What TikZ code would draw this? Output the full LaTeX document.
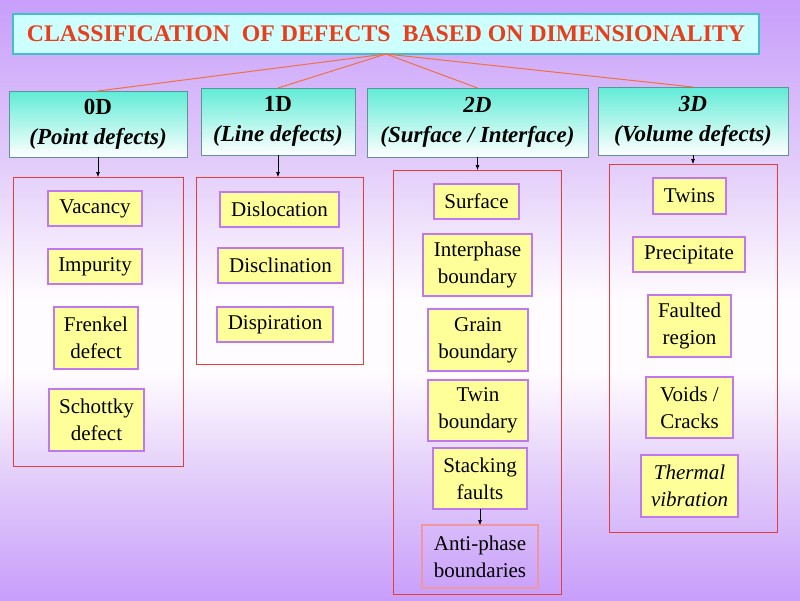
\documentclass[tikz,border=0pt]{standalone}
\usepackage{fontspec}
\setmainfont{Liberation Serif}
\usetikzlibrary{arrows.meta}
\definecolor{bgP}{RGB}{200,158,250}
\definecolor{bgM}{RGB}{226,204,250}
\definecolor{bgW}{RGB}{255,252,255}
\definecolor{titlefill}{RGB}{206,255,255}
\definecolor{titledraw}{RGB}{64,192,200}
\definecolor{titletext}{RGB}{232,62,28}
\definecolor{headtop}{RGB}{96,236,214}
\definecolor{headdraw}{RGB}{90,150,150}
\definecolor{connc}{RGB}{240,112,64}
\definecolor{groupc}{RGB}{232,60,60}
\definecolor{itemfill}{RGB}{255,255,153}
\definecolor{itemdraw}{RGB}{192,120,240}
\definecolor{antidraw}{RGB}{240,150,160}
\pgfdeclareverticalshading{bgshade}{100bp}{%
  color(0bp)=(bgP); color(25bp)=(bgP); color(35bp)=(bgM); color(44bp)=(bgW);
  color(50bp)=(bgW); color(61.5bp)=(bgM); color(75bp)=(bgP); color(100bp)=(bgP)}
\newcommand\bx[7]{\node[#1, minimum width={(#5-#3)*1pt}, minimum height={(#6-#4)*1pt}] (#2) at ({(#3+#5)/2},{(#4+#6)/2}) {#7};}
\tikzset{
  titlebox/.style={draw=titledraw, line width=2pt, fill=titlefill, inner sep=0pt, outer sep=0pt,
    text=titletext, font=\fontsize{23.8}{28}\selectfont\bfseries},
  headbox/.style={draw=headdraw, line width=1pt, top color=headtop, bottom color=white, inner sep=0pt, outer sep=0pt,
    align=center, font=\fontsize{23}{30}\selectfont\bfseries},
  groupbox/.style={draw=groupc, line width=1pt, inner sep=0pt, outer sep=0pt},
  itembox/.style={draw=itemdraw, line width=2pt, fill=itemfill, inner sep=0pt, outer sep=0pt,
    align=center, font=\fontsize{21}{27}\selectfont},
  antibox/.style={draw=antidraw, line width=2pt, inner sep=0pt, outer sep=0pt,
    align=center, font=\fontsize{21}{27}\selectfont},
  conn/.style={draw=connc, line width=1pt},
  arr/.style={draw=black, line width=0.6pt, -{Latex[length=5pt,width=4pt]}}
}
\begin{document}
\begin{tikzpicture}[x=1pt,y=-1pt]
\useasboundingbox (0,0) rectangle (800,600);
\shade[shading=bgshade] (0,0) rectangle (800,600);
% title
\bx{titlebox}{title}{13}{14}{759}{54}{CLASSIFICATION\ \ OF DEFECTS\ \ BASED ON DIMENSIONALITY}
% headers
\bx{headbox}{h0}{9}{91}{187}{157}{0D\\\textit{(Point defects)}}
\bx{headbox}{h1}{201}{88}{355}{155}{1D\\\textit{(Line defects)}}
\bx{headbox}{h2}{367}{88}{588}{157}{\textit{2D}\\\textit{(Surface / Interface)}}
\bx{headbox}{h3}{598}{87}{788}{155}{\textit{3D}\\\textit{(Volume defects)}}
% connectors from title
\draw[conn] (title.south) -- (h0.north);
\draw[conn] (title.south) -- (h1.north);
\draw[conn] (title.south) -- (h2.north);
\draw[conn] (title.south) -- (h3.north);
% groups
\bx{groupbox}{g0}{13}{177}{183}{466}{}
\bx{groupbox}{g1}{196}{177}{363}{364}{}
\bx{groupbox}{g2}{393}{170}{561}{594}{}
\bx{groupbox}{g3}{609}{164}{777}{532}{}
\draw[arr] (h0.south) -- (h0.south |- g0.north);
\draw[arr] (h1.south) -- (h1.south |- g1.north);
\draw[arr] (h2.south) -- (h2.south |- g2.north);
\draw[arr] (h3.south) -- (h3.south |- g3.north);
% 0D items
\bx{itembox}{vac}{48}{191}{142}{226}{Vacancy}
\bx{itembox}{imp}{48}{249}{142}{284}{Impurity}
\bx{itembox}{fre}{54}{307}{138}{369}{Frenkel\\defect}
\bx{itembox}{sch}{49}{389}{144}{451}{Schottky\\defect}
% 1D items
\bx{itembox}{dislo}{220}{192}{339}{227}{Dislocation}
\bx{itembox}{discl}{218}{248}{343}{283}{Disclination}
\bx{itembox}{dispi}{217}{307}{333}{342}{Dispiration}
% 2D items
\bx{itembox}{surf}{434}{184}{519}{219}{Surface}
\bx{itembox}{inter}{423}{234}{532}{296}{Interphase\\boundary}
\bx{itembox}{grain}{428}{309}{528}{371}{Grain\\boundary}
\bx{itembox}{twinb}{428}{380}{528}{441}{Twin\\boundary}
\bx{itembox}{stack}{433}{448}{527}{509}{Stacking\\faults}
\bx{antibox}{anti}{422}{525}{538}{588}{Anti-phase\\boundaries}
\draw[arr] (stack.south) -- (anti.north);
% 3D items
\bx{itembox}{twins}{653}{178}{726}{214}{Twins}
\bx{itembox}{prec}{633}{237}{745}{272}{Precipitate}
\bx{itembox}{fault}{648}{295}{731}{357}{Faulted\\region}
\bx{itembox}{voids}{646}{377}{733}{438}{Voids /\\Cracks}
\bx{itembox}{therm}{641}{455}{738}{517}{\textit{Thermal}\\\textit{vibration}}
\end{tikzpicture}
\end{document}
